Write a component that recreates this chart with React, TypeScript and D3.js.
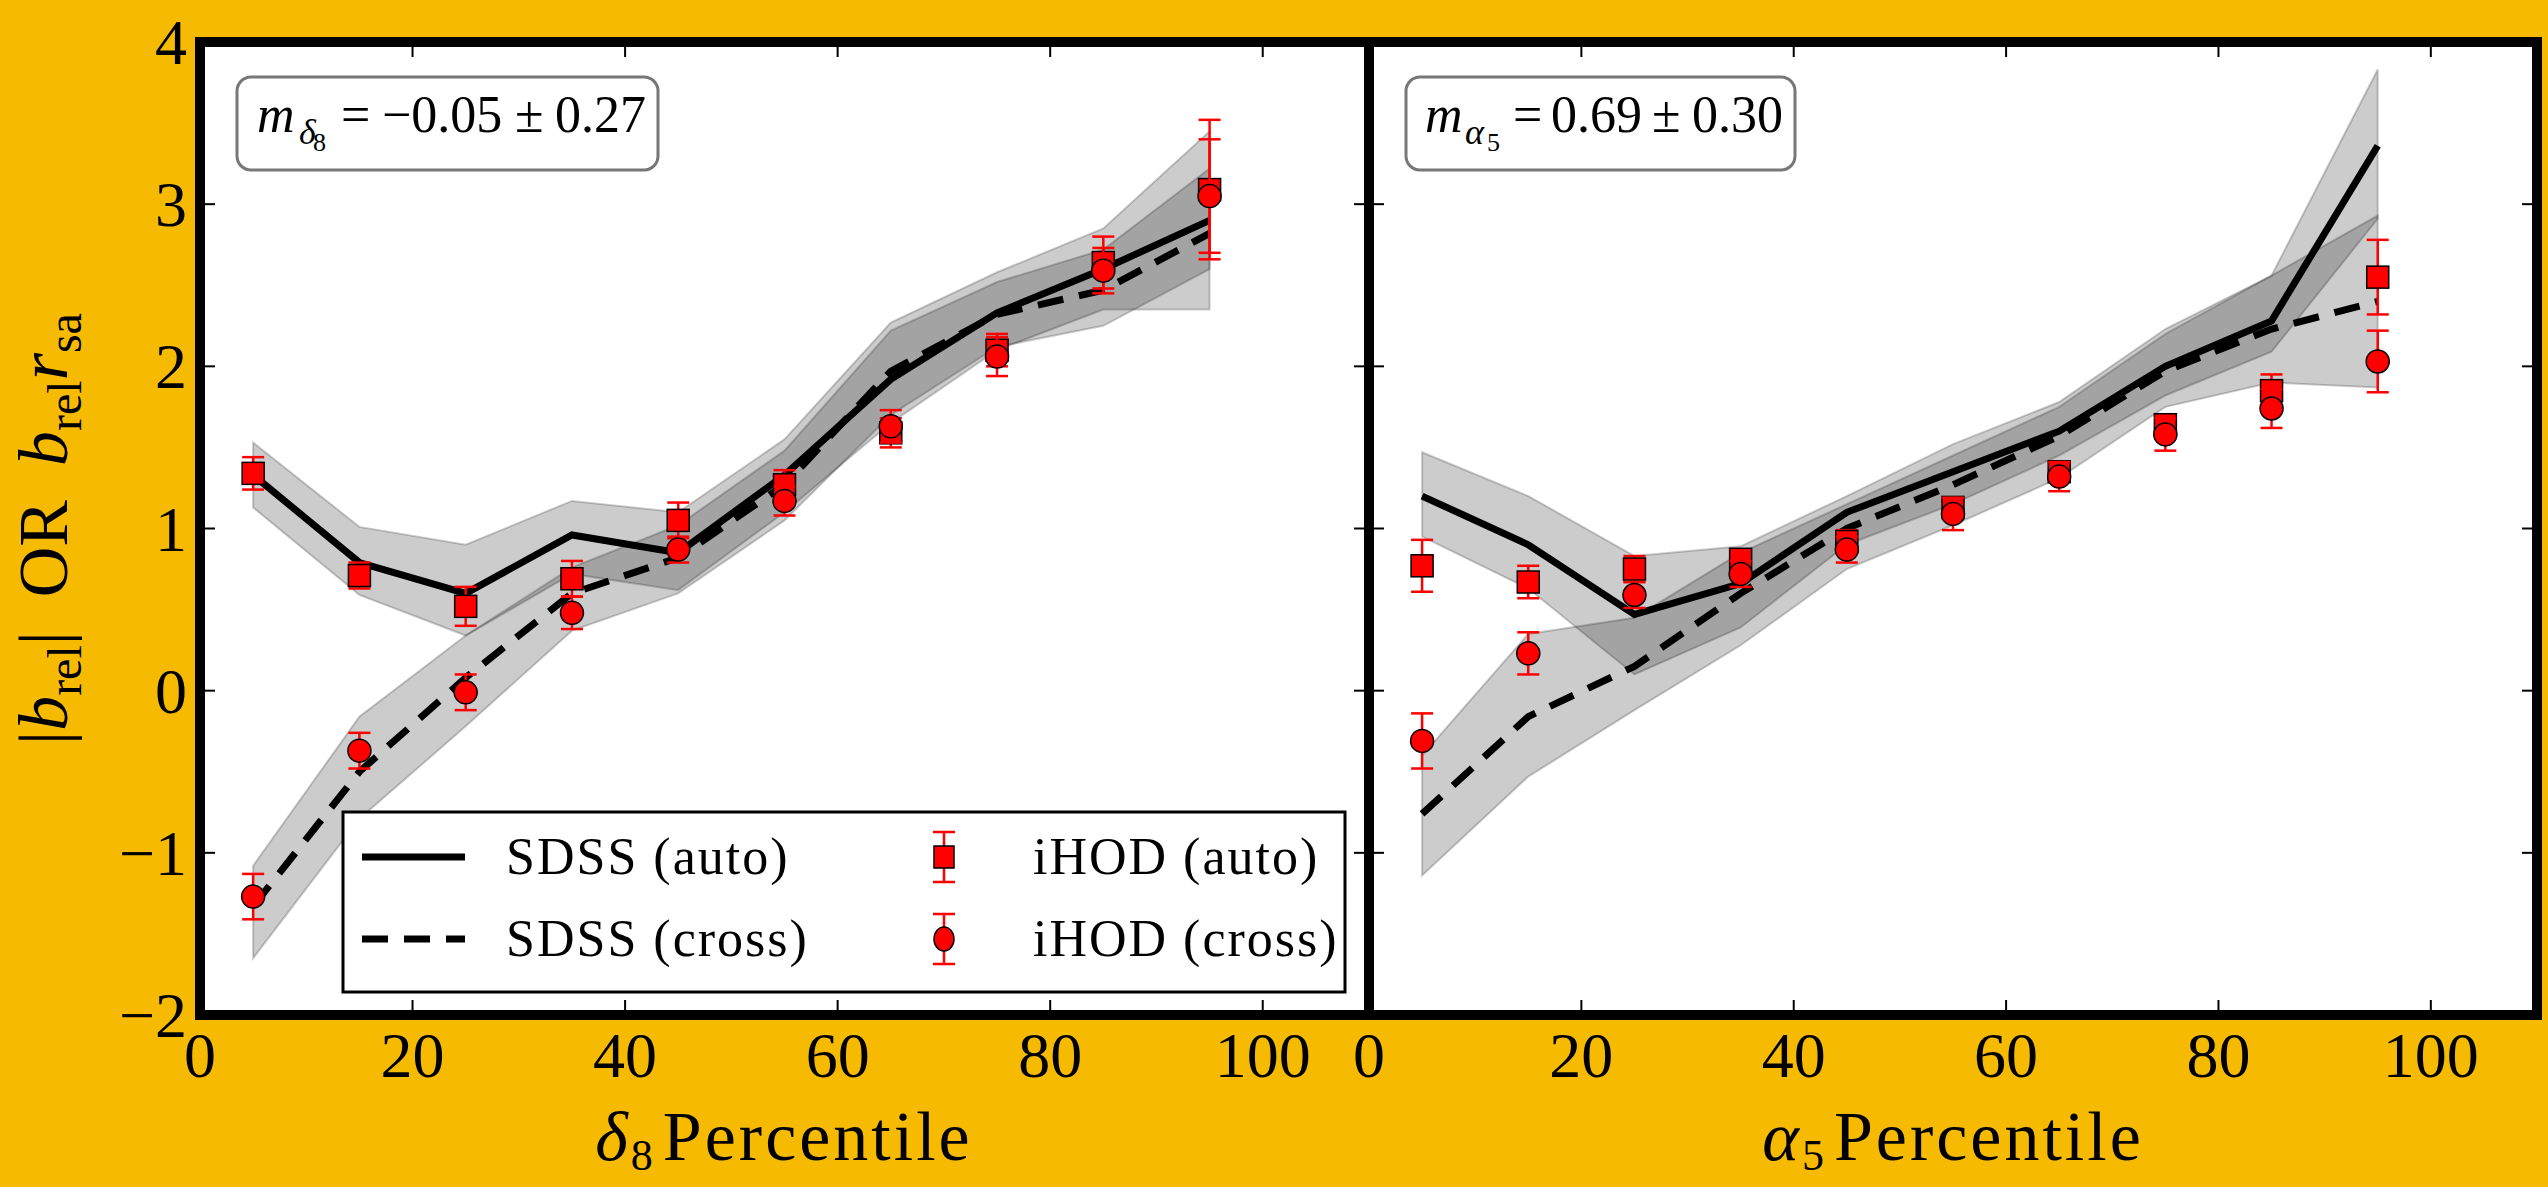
import React, { useEffect } from 'react';
import * as d3 from 'd3';

// ---------- data ----------
const X_PCT = [5, 15, 25, 35, 45, 55, 65, 75, 85, 95];
const X_TICKS = [0, 20, 40, 60, 80, 100];
const Y_TICKS = [-2, -1, 0, 1, 2, 3, 4];

// delta_8 panel
const D8_SDSS_AUTO = [1.33, 0.79, 0.6, 0.96, 0.85, 1.33, 1.92, 2.33, 2.6, 2.9];
const D8_SDSS_AUTO_HI = [1.53, 1.01, 0.9, 1.17, 1.1, 1.55, 2.27, 2.58, 2.85, 3.45];
const D8_SDSS_AUTO_LO = [1.13, 0.59, 0.34, 0.72, 0.62, 1.1, 1.65, 2.1, 2.35, 2.35];
const D8_SDSS_CROSS = [-1.33, -0.5, 0.08, 0.6, 0.82, 1.27, 1.97, 2.32, 2.47, 2.82];
const D8_SDSS_CROSS_HI = [-1.08, -0.16, 0.34, 0.76, 1.02, 1.48, 2.22, 2.52, 2.72, 3.22];
const D8_SDSS_CROSS_LO = [-1.65, -0.79, -0.22, 0.37, 0.6, 1.05, 1.7, 2.12, 2.25, 2.6];
const D8_IHOD_AUTO = [1.34, 0.71, 0.52, 0.69, 1.05, 1.27, 1.59, 2.1, 2.64, 3.09];
const D8_IHOD_AUTO_ERR = [0.1, 0.08, 0.12, 0.11, 0.11, 0.09, 0.09, 0.1, 0.16, 0.43];
const D8_IHOD_CROSS = [-1.27, -0.37, -0.01, 0.48, 0.87, 1.17, 1.63, 2.06, 2.59, 3.05];
const D8_IHOD_CROSS_ERR = [0.14, 0.11, 0.11, 0.1, 0.08, 0.09, 0.1, 0.12, 0.14, 0.35];

// alpha_5 panel
const A5_SDSS_AUTO = [1.2, 0.9, 0.47, 0.66, 1.1, 1.35, 1.6, 2.0, 2.28, 3.36];
const A5_SDSS_AUTO_HI = [1.47, 1.2, 0.83, 0.89, 1.2, 1.52, 1.78, 2.23, 2.56, 3.83];
const A5_SDSS_AUTO_LO = [0.95, 0.63, 0.1, 0.39, 0.9, 1.15, 1.45, 1.82, 2.09, 2.91];
const A5_SDSS_CROSS = [-0.76, -0.16, 0.15, 0.6, 1.0, 1.27, 1.57, 1.97, 2.23, 2.4];
const A5_SDSS_CROSS_HI = [-0.4, 0.35, 0.45, 0.85, 1.15, 1.45, 1.75, 2.2, 2.56, 2.93];
const A5_SDSS_CROSS_LO = [-1.14, -0.53, -0.12, 0.28, 0.75, 1.02, 1.31, 1.75, 1.9, 1.87];
const A5_IHOD_AUTO = [0.77, 0.67, 0.75, 0.81, 0.92, 1.13, 1.35, 1.64, 1.85, 2.55];
const A5_IHOD_AUTO_ERR = [0.16, 0.1, 0.08, 0.06, 0.07, 0.05, 0.05, 0.05, 0.1, 0.23];
const A5_IHOD_CROSS = [-0.31, 0.23, 0.59, 0.72, 0.87, 1.09, 1.32, 1.58, 1.74, 2.03];
const A5_IHOD_CROSS_ERR = [0.17, 0.13, 0.08, 0.08, 0.08, 0.1, 0.09, 0.1, 0.12, 0.19];

const SLOPE_D8 = ['−0.05', '0.27'];
const SLOPE_A5 = ['0.69', '0.30'];

// ---------- layout ----------
const W = 2548;
const H = 1187;
const BG = '#F6BB00';
const FONT = 'Liberation Serif, Times New Roman, serif';
const TOP = 42;
const BOTTOM = 1015;

const PANELS = [
  {
    key: 'd8',
    x0: 200,
    x1: 1369,
    auto: D8_SDSS_AUTO, autoHi: D8_SDSS_AUTO_HI, autoLo: D8_SDSS_AUTO_LO,
    cross: D8_SDSS_CROSS, crossHi: D8_SDSS_CROSS_HI, crossLo: D8_SDSS_CROSS_LO,
    sq: D8_IHOD_AUTO, sqErr: D8_IHOD_AUTO_ERR,
    ci: D8_IHOD_CROSS, ciErr: D8_IHOD_CROSS_ERR,
    yLabels: true,
  },
  {
    key: 'a5',
    x0: 1369,
    x1: 2537,
    auto: A5_SDSS_AUTO, autoHi: A5_SDSS_AUTO_HI, autoLo: A5_SDSS_AUTO_LO,
    cross: A5_SDSS_CROSS, crossHi: A5_SDSS_CROSS_HI, crossLo: A5_SDSS_CROSS_LO,
    sq: A5_IHOD_AUTO, sqErr: A5_IHOD_AUTO_ERR,
    ci: A5_IHOD_CROSS, ciErr: A5_IHOD_CROSS_ERR,
    yLabels: false,
  },
];

const yScale = d3.scaleLinear().domain([-2, 4]).range([BOTTOM, TOP]);

function ErrBar({ x, y, e }: { x: number; y: number; e: number }) {
  const yt = yScale(y + e);
  const yb = yScale(y - e);
  return (
    <g stroke="#ff0000" strokeWidth={2.5}>
      <line x1={x} x2={x} y1={yt} y2={yb} />
      <line x1={x - 11} x2={x + 11} y1={yt} y2={yt} />
      <line x1={x - 11} x2={x + 11} y1={yb} y2={yb} />
    </g>
  );
}

function Panel({ p }: { p: (typeof PANELS)[number] }) {
  const xs = d3.scaleLinear().domain([0, 110]).range([p.x0, p.x1]);
  const area = (lo: number[], hi: number[]) =>
    d3
      .area<number>()
      .x((_, i) => xs(X_PCT[i]))
      .y0((_, i) => yScale(lo[i]))
      .y1((_, i) => yScale(hi[i]))(lo) || '';
  const line = (v: number[]) =>
    d3
      .line<number>()
      .x((_, i) => xs(X_PCT[i]))
      .y((d) => yScale(d))(v) || '';
  const TL = 15;
  return (
    <g>
      <rect x={p.x0} y={TOP} width={p.x1 - p.x0} height={BOTTOM - TOP} fill="#fff" />
      <path d={area(p.autoLo, p.autoHi)} fill="#000" fillOpacity={0.2} stroke="#000" strokeOpacity={0.2} strokeWidth={2} />
      <path d={area(p.crossLo, p.crossHi)} fill="#000" fillOpacity={0.2} stroke="#000" strokeOpacity={0.2} strokeWidth={2} />
      <path d={line(p.auto)} fill="none" stroke="#000" strokeWidth={7} />
      <path d={line(p.cross)} fill="none" stroke="#000" strokeWidth={7} strokeDasharray="26 16" />
      {X_PCT.map((x, i) => (
        <g key={'sq' + i}>
          <ErrBar x={xs(x)} y={p.sq[i]} e={p.sqErr[i]} />
          <rect x={xs(x) - 11} y={yScale(p.sq[i]) - 11} width={22} height={22} fill="#ff0000" stroke="#000" strokeWidth={1.5} />
        </g>
      ))}
      {X_PCT.map((x, i) => (
        <g key={'ci' + i}>
          <ErrBar x={xs(x)} y={p.ci[i]} e={p.ciErr[i]} />
          <circle cx={xs(x)} cy={yScale(p.ci[i])} r={11.5} fill="#ff0000" stroke="#000" strokeWidth={1.5} />
        </g>
      ))}
      <g stroke="#000" strokeWidth={2}>
        {X_TICKS.map((t) => (
          <g key={'xt' + t}>
            <line x1={xs(t)} x2={xs(t)} y1={BOTTOM} y2={BOTTOM - TL} />
            <line x1={xs(t)} x2={xs(t)} y1={TOP} y2={TOP + TL} />
          </g>
        ))}
        {Y_TICKS.map((t) => (
          <g key={'yt' + t}>
            <line x1={p.x0} x2={p.x0 + TL} y1={yScale(t)} y2={yScale(t)} />
            <line x1={p.x1} x2={p.x1 - TL} y1={yScale(t)} y2={yScale(t)} />
          </g>
        ))}
      </g>
      <rect x={p.x0} y={TOP} width={p.x1 - p.x0} height={BOTTOM - TOP} fill="none" stroke="#000" strokeWidth={10} />
      <g fontFamily={FONT} fontSize={64} fill="#000">
        {X_TICKS.map((t) => (
          <text key={'xl' + t} x={xs(t)} y={1077} textAnchor="middle">
            {String(t)}
          </text>
        ))}
        {p.yLabels &&
          Y_TICKS.map((t) => (
            <text key={'yl' + t} x={187} y={yScale(t) + 22} textAnchor="end">
              {t < 0 ? '−' + Math.abs(t) : String(t)}
            </text>
          ))}
      </g>
    </g>
  );
}

function Legend() {
  const r1 = 857;
  const r2 = 939;
  const mx = 944;
  return (
    <g fontFamily={FONT} fontSize={52} fill="#000">
      <rect x={343} y={812} width={1002} height={180} fill="#fff" stroke="#000" strokeWidth={3} />
      <line x1={362} x2={465} y1={r1} y2={r1} stroke="#000" strokeWidth={7} />
      <line x1={362} x2={465} y1={r2} y2={r2} stroke="#000" strokeWidth={7} strokeDasharray="26 16" />
      <text x={506} y={r1 + 17} letterSpacing={2}>SDSS (auto)</text>
      <text x={506} y={r2 + 17} letterSpacing={2}>SDSS (cross)</text>
      <g stroke="#ff0000" strokeWidth={2.5}>
        <line x1={mx} x2={mx} y1={r1 - 25} y2={r1 + 25} />
        <line x1={mx - 11} x2={mx + 11} y1={r1 - 25} y2={r1 - 25} />
        <line x1={mx - 11} x2={mx + 11} y1={r1 + 25} y2={r1 + 25} />
        <line x1={mx} x2={mx} y1={r2 - 25} y2={r2 + 25} />
        <line x1={mx - 11} x2={mx + 11} y1={r2 - 25} y2={r2 - 25} />
        <line x1={mx - 11} x2={mx + 11} y1={r2 + 25} y2={r2 + 25} />
      </g>
      <rect x={mx - 10} y={r1 - 11} width={20} height={22} fill="#ff0000" stroke="#000" strokeWidth={1.5} />
      <ellipse cx={mx} cy={r2} rx={10} ry={12} fill="#ff0000" stroke="#000" strokeWidth={1.5} />
      <text x={1033} y={r1 + 17} letterSpacing={2}>iHOD (auto)</text>
      <text x={1033} y={r2 + 17} letterSpacing={2}>iHOD (cross)</text>
    </g>
  );
}

function SlopeBox({ x, w, sym, sub, val, err, pos }: { x: number; w: number; sym: string; sub: string; val: string; err: string; pos: number[] }) {
  return (
    <g fontFamily={FONT} fill="#000">
      <rect x={x} y={77} width={w} height={93} rx={14} ry={14} fill="#fff" stroke="#777" strokeWidth={3} />
      <text y={132} fontSize={52}>
        <tspan x={pos[0]} fontStyle="italic">m</tspan>
        <tspan x={pos[1]} dy={12} fontSize={36} fontStyle="italic">{sym}</tspan>
        <tspan x={pos[2]} dy={7} fontSize={26}>{sub}</tspan>
        <tspan x={pos[3]} dy={-19} fontSize={52}>=</tspan>
        <tspan x={pos[4]}>{val}</tspan>
        <tspan x={pos[5]}>±</tspan>
        <tspan x={pos[6]}>{err}</tspan>
      </text>
    </g>
  );
}

export default function App() {
  useEffect(() => {
    document.body.style.margin = '0';
    document.body.style.background = BG;
    document.body.style.overflow = 'hidden';
  }, []);
  return (
    <svg width={W} height={H} viewBox={`0 0 ${W} ${H}`} style={{ display: 'block' }}>
      <rect x={0} y={0} width={W} height={H} fill={BG} />
      {PANELS.map((p) => (
        <Panel key={p.key} p={p} />
      ))}
      <Legend />
      <SlopeBox x={237} w={421} sym="δ" sub="8" val={SLOPE_D8[0]} err={SLOPE_D8[1]} pos={[257, 299, 313, 341, 382, 515, 555]} />
      <SlopeBox x={1406} w={389} sym="α" sub="5" val={SLOPE_A5[0]} err={SLOPE_A5[1]} pos={[1425, 1465, 1487, 1513, 1551, 1652, 1692]} />
      <g fontFamily={FONT} fill="#000">
        <text x={784} y={1160} textAnchor="middle" fontSize={70} letterSpacing={3}>
          <tspan fontStyle="italic">δ</tspan>
          <tspan fontSize={44} dy={10} letterSpacing={0}>8</tspan>
          <tspan dy={-10} dx={10}>Percentile</tspan>
        </text>
        <text x={1953} y={1160} textAnchor="middle" fontSize={70} letterSpacing={3}>
          <tspan fontStyle="italic">α</tspan>
          <tspan fontSize={44} dy={10} letterSpacing={0}>5</tspan>
          <tspan dy={-10} dx={10}>Percentile</tspan>
        </text>
        <text transform="translate(67,529) rotate(-90)" textAnchor="middle" fontSize={70}>
          <tspan>|</tspan>
          <tspan fontStyle="italic">b</tspan>
          <tspan fontSize={48} dy={14}>rel</tspan>
          <tspan dy={-14}>|</tspan>
          <tspan dx={34}>OR</tspan>
          <tspan dx={34} fontStyle="italic">b</tspan>
          <tspan fontSize={48} dy={14}>rel</tspan>
          <tspan fontStyle="italic" dy={-14}>r</tspan>
          <tspan fontSize={48} dy={14}>sa</tspan>
        </text>
      </g>
    </svg>
  );
}
